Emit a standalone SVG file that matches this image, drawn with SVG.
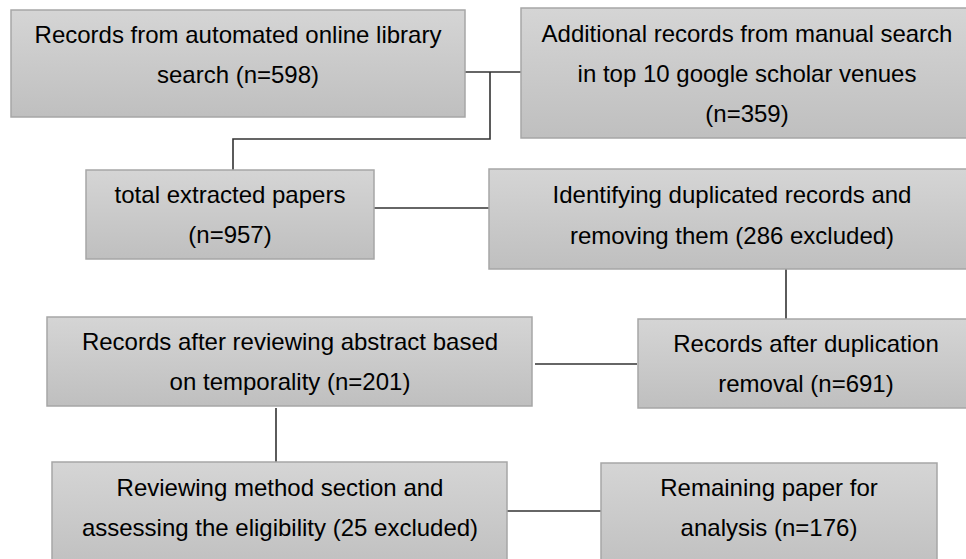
<svg xmlns="http://www.w3.org/2000/svg" width="966" height="559" viewBox="0 0 966 559">
  <defs>
    <linearGradient id="boxFill" x1="0" y1="0" x2="0" y2="1">
      <stop offset="0" stop-color="#d5d5d5"/>
      <stop offset="1" stop-color="#bfbfbf"/>
    </linearGradient>
    <style>
      .box { fill: url(#boxFill); stroke: #a6a6a6; stroke-width: 1.5; }
      .label { font-family: "Liberation Sans", Arial, sans-serif; font-size: 24px; fill: #000; text-anchor: middle; }
      .link { fill: none; stroke: #333333; stroke-width: 1.6; }
    </style>
  </defs>
  <rect width="966" height="559" fill="#ffffff"/>

  <!-- connectors -->
  <g id="connectors">
    <path class="link" d="M465,72 H521"/>
    <path class="link" d="M490,72 V139 H233 V170"/>
    <path class="link" d="M374,208 H489"/>
    <path class="link" d="M786,258 V319"/>
    <path class="link" d="M535,364 H637"/>
    <path class="link" d="M276,408 V462"/>
    <path class="link" d="M500,511 H601"/>
  </g>

  <g id="automated-search">
    <rect class="box" x="11" y="10" width="454" height="107"/>
    <text class="label" x="238" y="43">Records from automated online library</text>
    <text class="label" x="238" y="83">search (n=598)</text>
  </g>

  <g id="manual-search">
    <rect class="box" x="521" y="8" width="453" height="130"/>
    <text class="label" x="747" y="42">Additional records from manual search</text>
    <text class="label" x="747" y="82">in top 10 google scholar venues</text>
    <text class="label" x="747" y="122">(n=359)</text>
  </g>

  <g id="total-extracted">
    <rect class="box" x="86" y="170" width="288" height="89"/>
    <text class="label" x="230" y="203">total extracted papers</text>
    <text class="label" x="230" y="243">(n=957)</text>
  </g>

  <g id="duplicates">
    <rect class="box" x="489" y="169" width="486" height="100"/>
    <text class="label" x="732" y="203">Identifying duplicated records and</text>
    <text class="label" x="732" y="244">removing them (286 excluded)</text>
  </g>

  <g id="after-deduplication">
    <rect class="box" x="638" y="319" width="337" height="89"/>
    <text class="label" x="806" y="352">Records after duplication</text>
    <text class="label" x="806" y="392">removal (n=691)</text>
  </g>

  <g id="abstract-review">
    <rect class="box" x="47" y="317" width="485" height="89"/>
    <text class="label" x="290" y="350">Records after reviewing abstract based</text>
    <text class="label" x="290" y="390">on temporality (n=201)</text>
  </g>

  <g id="eligibility">
    <rect class="box" x="52" y="462" width="455" height="110"/>
    <text class="label" x="280" y="496">Reviewing method section and</text>
    <text class="label" x="280" y="536">assessing the eligibility (25 excluded)</text>
  </g>

  <g id="remaining">
    <rect class="box" x="601" y="463" width="336" height="110"/>
    <text class="label" x="769" y="496">Remaining paper for</text>
    <text class="label" x="769" y="536">analysis (n=176)</text>
  </g>
</svg>
